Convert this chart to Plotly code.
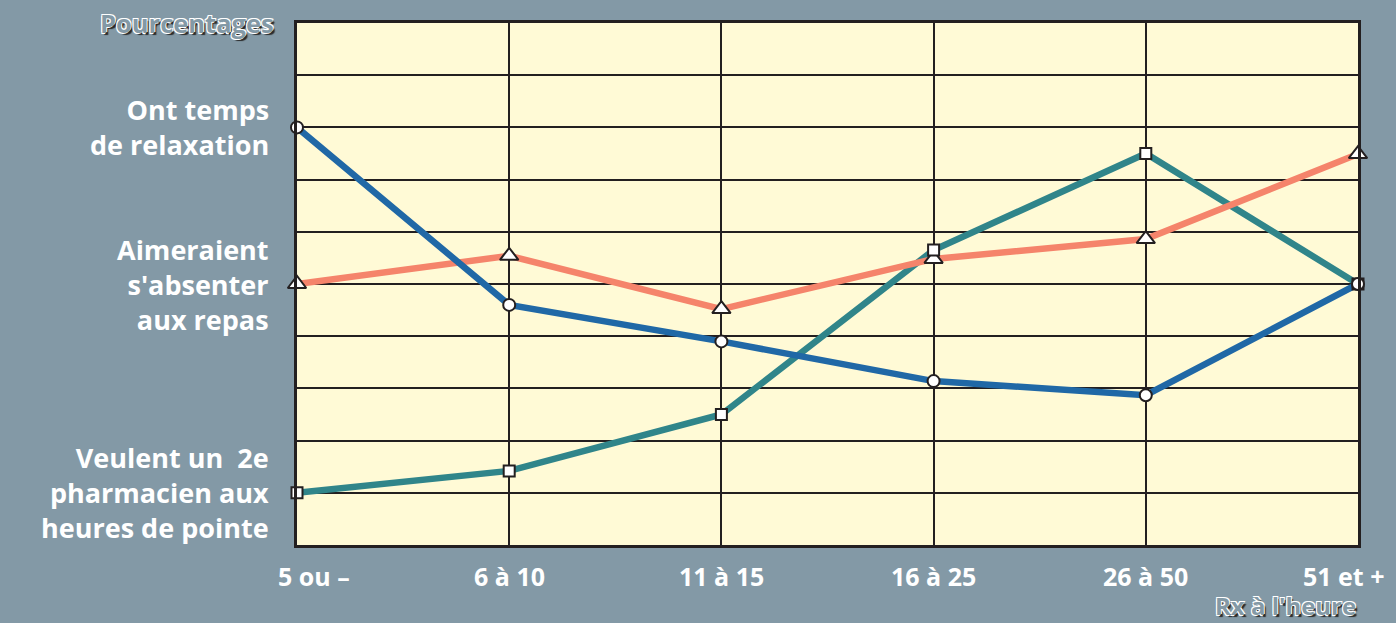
import plotly.graph_objects as go

categories = ["5 ou –", "6 à 10", "11 à 15", "16 à 25", "26 à 50", "51 et +"]
relaxation = [8.0, 4.6, 3.9, 3.14, 2.87, 5.0]
absenter = [5.0, 5.54, 4.52, 5.48, 5.86, 7.49]
pharmacien = [1.0, 1.42, 2.5, 5.65, 7.5, 5.0]

series_labels = ["Ont temps<br>de relaxation", "Aimeraient<br>s'absenter<br>aux repas",
                 "Veulent un  2e<br>pharmacien aux<br>heures de pointe"]
y_title = "Pourcentages"
x_title = "Rx à l'heure"

BG = "#8399a6"
PLOT_BG = "#fffad6"
BLUE = "#2068a6"
ORANGE = "#f5846b"
TEAL = "#30858a"
DARK = "#231f20"
FONT = "Open Sans"

x = list(range(len(categories)))
fig = go.Figure()

series = [
    (pharmacien, TEAL, "square", 11),
    (absenter, ORANGE, "triangle-up", 16),
    (relaxation, BLUE, "circle", 12),
]
for vals, col, sym, sz in series:
    fig.add_trace(go.Scatter(x=x, y=vals, mode="lines",
                             line=dict(color=col, width=6.5), cliponaxis=False,
                             hoverinfo="skip"))
for vals, col, sym, sz in [series[1], series[0], series[2]]:
    fig.add_trace(go.Scatter(x=x, y=vals, mode="markers",
                             marker=dict(symbol=sym, size=sz, color="white",
                                         line=dict(color=DARK, width=2)),
                             cliponaxis=False))

annotations = []
# category tick labels
for i, c in enumerate(categories):
    shift = 0
    if i == 0:
        shift = 17
    elif i == len(categories) - 1:
        shift = -14
    annotations.append(dict(x=i, y=0, xref="x", yref="y", text=c, showarrow=False,
                            xanchor="center", yanchor="middle", yshift=-31, xshift=shift,
                            font=dict(family=FONT, size=25, color="white", weight="bold")))
# series labels at left, aligned with the first point of each series
for vals, lab in zip([relaxation, absenter, pharmacien], series_labels):
    annotations.append(dict(x=0, y=vals[0], xref="x", yref="y", text=lab, showarrow=False,
                            xanchor="right", yanchor="middle", xshift=-26, align="right",
                            font=dict(family=FONT, size=27, color="white", weight="bold")))
shadow = "-1px -1px 0 #ffffff, 1px -1px 0 #ffffff, -1px 1px 0 #ffffff, 2px 2px 1px #2a2a2a"
annotations.append(dict(xref="paper", yref="paper", x=-0.0195, y=1.0, text=y_title,
                        showarrow=False, xanchor="right", yanchor="middle",
                        font=dict(family=FONT, size=25.5, color="#8399a6", weight="bold",
                                  shadow=shadow)))
annotations.append(dict(xref="paper", yref="paper", x=1.0, y=0, yshift=-60, text=x_title,
                        showarrow=False, xanchor="right", yanchor="middle",
                        font=dict(family=FONT, size=24, color="#8399a6", weight="bold",
                                  shadow=shadow)))

fig.update_layout(
    width=1396, height=623,
    paper_bgcolor=BG, plot_bgcolor=PLOT_BG,
    margin=dict(l=297, r=38, t=23, b=78),
    showlegend=False,
    annotations=annotations,
    xaxis=dict(range=[0, len(categories) - 1], tickvals=x, showticklabels=False,
               showgrid=True, gridcolor=DARK, gridwidth=1.5, zeroline=False,
               showline=True, mirror=True, linecolor=DARK, linewidth=3, ticks=""),
    yaxis=dict(range=[0, 10], dtick=1, showticklabels=False,
               showgrid=True, gridcolor=DARK, gridwidth=1.5, zeroline=False,
               showline=True, mirror=True, linecolor=DARK, linewidth=3, ticks=""),
)

fig.write_html("out.html")
